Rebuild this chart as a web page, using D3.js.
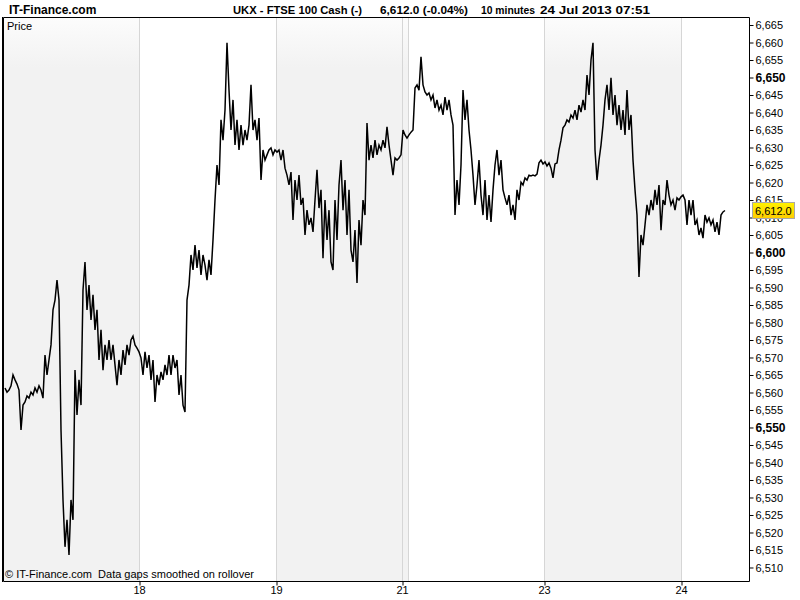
<!DOCTYPE html>
<html><head><meta charset="utf-8">
<script src="https://cdn.jsdelivr.net/npm/d3@7"></script>
<style>
html,body{margin:0;padding:0;background:#fff;}
svg{display:block;font-family:"Liberation Sans",Arial,sans-serif;}
</style></head><body>
<svg id="c" width="800" height="600"></svg>
<script>
// 10-minute FTSE 100 cash prices (one sample per bar slot)
const prices = [
6561.3,6560.1,6560.7,6561.9,6565.0,6563.6,6562.4,6560.7,6549.3,6556.4,
6557.3,6559.0,6558.4,6560.1,6559.3,6561.3,6560.1,6561.9,6560.7,6558.4,
6570.7,6565.0,6569.3,6573.6,6583.6,6586.4,6592.1,6586.4,6549.3,6529.3,
6515.9,6523.6,6513.6,6529.3,6523.6,6566.4,6553.6,6563.6,6556.4,6589.3,
6597.3,6583.6,6590.7,6580.7,6587.9,6577.9,6583.6,6569.3,6577.9,6566.4,
6573.6,6569.3,6575.0,6569.3,6573.6,6567.9,6562.1,6569.3,6565.0,6572.1,
6567.9,6573.6,6570.7,6575.0,6576.1,6573.6,6572.7,6571.6,6569.9,6565.0,
6571.6,6567.0,6570.7,6563.6,6569.3,6557.3,6565.0,6562.1,6565.9,6563.6,
6567.9,6565.0,6570.7,6565.0,6570.7,6567.0,6569.3,6559.3,6565.0,6556.4,
6554.4,
6586.4,6590.7,6599.3,6595.0,6602.1,6595.6,6600.7,6593.6,6599.3,6596.4,
6592.1,6597.9,6593.6,6603.6,6615.0,6625.0,6619.3,6637.9,6632.1,6640.7,
6659.9,6646.4,6635.0,6643.6,6630.7,6637.9,6629.3,6636.4,6630.7,6635.0,
6632.1,6636.4,6647.9,6635.0,6637.9,6632.1,6638.4,6620.7,6629.3,6626.4,
6627.9,6629.3,6629.9,6627.9,6629.3,
6628.7,6629.3,6626.4,6629.3,6624.1,6622.1,6619.3,6623.0,6609.3,6620.7,
6615.0,6622.1,6613.6,6615.6,6605.0,6612.1,6607.9,6609.9,6605.9,6615.0,
6623.6,6612.7,6617.9,6598.4,6615.0,6603.6,6612.1,6597.3,6595.0,6615.0,
6603.6,6619.3,6626.4,6612.1,6620.7,6605.0,6617.9,6600.7,6597.3,6606.4,
6591.3,6609.3,6602.1,6615.0,6610.7,6637.0,6626.4,6630.7,6627.0,6632.1,
6627.9,6630.7,6629.3,6632.1,6629.9,6635.9,6630.7,6626.4,6622.1,6627.0,
6626.4,6627.0,6627.9,
6635.0,6633.6,6632.7,6633.6,6634.4,6635.0,6647.0,6647.9,6646.4,6655.9,
6647.9,6645.9,6645.0,6645.6,6643.6,6645.0,6641.3,6643.6,6640.7,6642.1,
6639.3,6644.4,6640.7,6643.6,6639.3,6636.4,6610.7,6620.7,6613.6,6625.0,
6646.4,6637.9,6643.6,6635.0,6629.3,6622.1,6613.6,6619.3,6626.4,6616.4,
6610.7,6620.7,6609.3,6616.4,6608.7,6617.9,6625.0,6629.3,6622.1,6626.4,
6617.9,6615.6,6613.6,6616.4,6610.7,6613.6,6609.3,6617.9,6615.0,6620.1,
6619.3,6621.3,6620.7,6622.1,6621.9,6622.1,6621.9,6622.4,6625.6,6626.4,
6625.3,6625.9,6624.7,6625.6,6624.1,6621.3,6625.3,6625.6,
6629.3,6632.1,6635.6,6636.4,6637.9,6637.3,6639.3,6638.4,6640.7,6637.9,
6642.1,6640.1,6643.6,6640.7,6650.7,6645.0,6655.0,6659.9,6629.3,6620.7,
6626.4,6630.7,6636.4,6643.6,6647.9,6640.7,6649.9,6639.3,6645.0,6636.4,
6642.1,6635.0,6640.7,6633.6,6646.4,6635.0,6639.3,6626.4,6617.9,6610.7,
6593.0,6605.0,6602.1,6607.9,6613.6,6610.7,6615.0,6612.1,6617.9,6613.6,
6619.3,6606.4,6615.0,6613.6,6620.7,6616.4,6613.6,6615.0,6612.1,6615.6,
6615.0,6615.9,
6616.4,6615.0,6607.9,6615.0,6610.7,6615.0,6607.9,6609.3,6605.0,6607.0,
6604.1,6610.7,6608.7,6609.9,6607.9,6609.3,6605.9,6608.7,6605.0,6610.7,
6611.6,6612.0
];
// sessions (bar index at which each calendar day begins)
const dayLabels = ["17","18","19","21","22","23","24"];
const dayStarts = [-1, 67, 135.5, 198.5, 201.5, 269.5, 338];
const dayShaded = [true, false, true, true, false, true, false];
const dayLabelShown = [false, true, true, true, false, true, true];
const xDomain = [-1, 372];
const yDomain = [6506.14, 6667.29];
const yTicks = [6510,6515,6520,6525,6530,6535,6540,6545,6550,6555,6560,6565,6570,6575,6580,6585,
                6590,6595,6600,6605,6610,6615,6620,6625,6630,6635,6640,6645,6650,6655,6660,6665];
const yMajorTicks = [6550, 6600, 6650];
const lastPrice = 6612.0;
const brand = "IT-Finance.com";
const titleParts = ["UKX - FTSE 100 Cash (-)", "6,612.0 (-0.04%)", "10 minutes", "24 Jul 2013 07:51"];
const panelLabel = "Price";
const footNote = "\u00A9 IT-Finance.com  Data gaps smoothed on rollover";

const L = 3, R = 749, T = 17, B = 581;
const svg = d3.select("#c");
const x = d3.scaleLinear().domain(xDomain).range([L, R]);
const y = d3.scaleLinear().domain(yDomain).range([B, T]);

const defs = svg.append("defs");
const g1 = defs.append("linearGradient").attr("id", "band").attr("x1", 0).attr("y1", 0).attr("x2", 0).attr("y2", 1);
g1.append("stop").attr("offset", "0%").attr("stop-color", "#fcfcfc");
g1.append("stop").attr("offset", "9%").attr("stop-color", "#f2f2f2");
g1.append("stop").attr("offset", "100%").attr("stop-color", "#f2f2f2");
const g2 = defs.append("linearGradient").attr("id", "tag").attr("x1", 0).attr("y1", 0).attr("x2", 0).attr("y2", 1);
g2.append("stop").attr("offset", "0%").attr("stop-color", "#fff200");
g2.append("stop").attr("offset", "100%").attr("stop-color", "#ffcc00");
defs.append("clipPath").attr("id", "plot").append("rect").attr("x", L).attr("y", T).attr("width", R - L).attr("height", B - T);

// day bands
const bands = dayStarts.map((s, i) => ({ s: s, e: i < dayStarts.length - 1 ? dayStarts[i + 1] : xDomain[1], shaded: dayShaded[i] }));
svg.append("g").selectAll("rect").data(bands.filter(b => b.shaded)).join("rect")
  .attr("x", d => x(d.s)).attr("width", d => x(d.e) - x(d.s))
  .attr("y", T).attr("height", B - T).attr("fill", "url(#band)");

// day separators
svg.append("g").selectAll("line").data(dayStarts.slice(1)).join("line")
  .attr("x1", d => Math.round(x(d)) + 0.5).attr("x2", d => Math.round(x(d)) + 0.5)
  .attr("y1", T).attr("y2", B).attr("stroke", "#d6d6d6").attr("stroke-width", 1);

// price line
const line = d3.line().x((d, i) => x(i)).y(d => y(d));
svg.append("path").datum(prices).attr("clip-path", "url(#plot)")
  .attr("d", line).attr("fill", "none").attr("stroke", "#000")
  .attr("stroke-width", 1.5).attr("stroke-linejoin", "miter");

// frame
svg.append("path").attr("d", `M${L + 0.5},${T + 0.5}H${R + 0.5}V${B + 0.5}H${L + 0.5}Z`)
  .attr("fill", "none").attr("stroke", "#000").attr("stroke-width", 1);
svg.append("line").attr("x1", L - 0.5).attr("x2", L - 0.5).attr("y1", T).attr("y2", B + 1)
  .attr("stroke", "#000").attr("stroke-width", 1);

// y axis (right)
const yAxis = svg.append("g").attr("transform", `translate(${R + 0.5},0)`)
  .call(d3.axisRight(y).tickValues(yTicks).tickSize(4).tickPadding(2).tickFormat(d3.format(",")));
yAxis.select(".domain").remove();
yAxis.selectAll("line").attr("stroke", "#000");
yAxis.selectAll("text").attr("fill", "#000")
  .attr("font-family", "'Liberation Sans',Arial,sans-serif")
  .attr("font-weight", d => yMajorTicks.includes(d) ? "bold" : "normal")
  .attr("font-size", d => yMajorTicks.includes(d) ? 12 : 11);

// x axis (bottom)
const xTickVals = dayStarts.filter((d, i) => dayLabelShown[i]);
const xTickLab = dayLabels.filter((d, i) => dayLabelShown[i]);
const xAxis = svg.append("g").attr("transform", `translate(0,${B + 0.5})`)
  .call(d3.axisBottom(x).tickValues(xTickVals).tickSize(4).tickPadding(1)
    .tickFormat((d, i) => xTickLab[i]));
xAxis.select(".domain").remove();
xAxis.selectAll("line").attr("stroke", "#000")
  .attr("transform", d => `translate(${Math.round(x(d)) + 0.5 - x(d)},0)`);
xAxis.selectAll("text").attr("font-size", 11).attr("fill", "#000")
  .attr("font-family", "'Liberation Sans',Arial,sans-serif");

// last price tag
const ty = y(lastPrice);
svg.append("rect").attr("x", 752.5).attr("y", Math.round(ty) - 8.5).attr("width", 42).attr("height", 16)
  .attr("fill", "url(#tag)").attr("stroke", "#a8a8a8").attr("stroke-width", 1);
svg.append("text").attr("x", 755).attr("y", Math.round(ty) + 4).attr("font-size", 11)
  .attr("fill", "#000").text(d3.format(",.1f")(lastPrice));

// titles
svg.append("text").attr("x", 9).attr("y", 14).attr("font-size", 12).attr("font-weight", "bold")
  .attr("fill", "#000").text(brand);
const titleX = [233, 380, 481, 540];
const titleW = [129, 88, 54, 110];
svg.append("g").selectAll("text").data(titleParts).join("text")
  .attr("x", (d, i) => titleX[i]).attr("y", 14).attr("font-size", 10.8).attr("font-weight", "bold")
  .attr("textLength", (d, i) => titleW[i]).attr("lengthAdjust", "spacingAndGlyphs")
  .attr("fill", "#000").text(d => d);

svg.append("text").attr("x", 7).attr("y", 30).attr("font-size", 11).attr("fill", "#000").text(panelLabel);
svg.append("text").attr("x", 5).attr("y", 578).attr("font-size", 11).attr("fill", "#000")
  .style("white-space", "pre").attr("xml:space", "preserve").text(footNote);
</script>
</body></html>
